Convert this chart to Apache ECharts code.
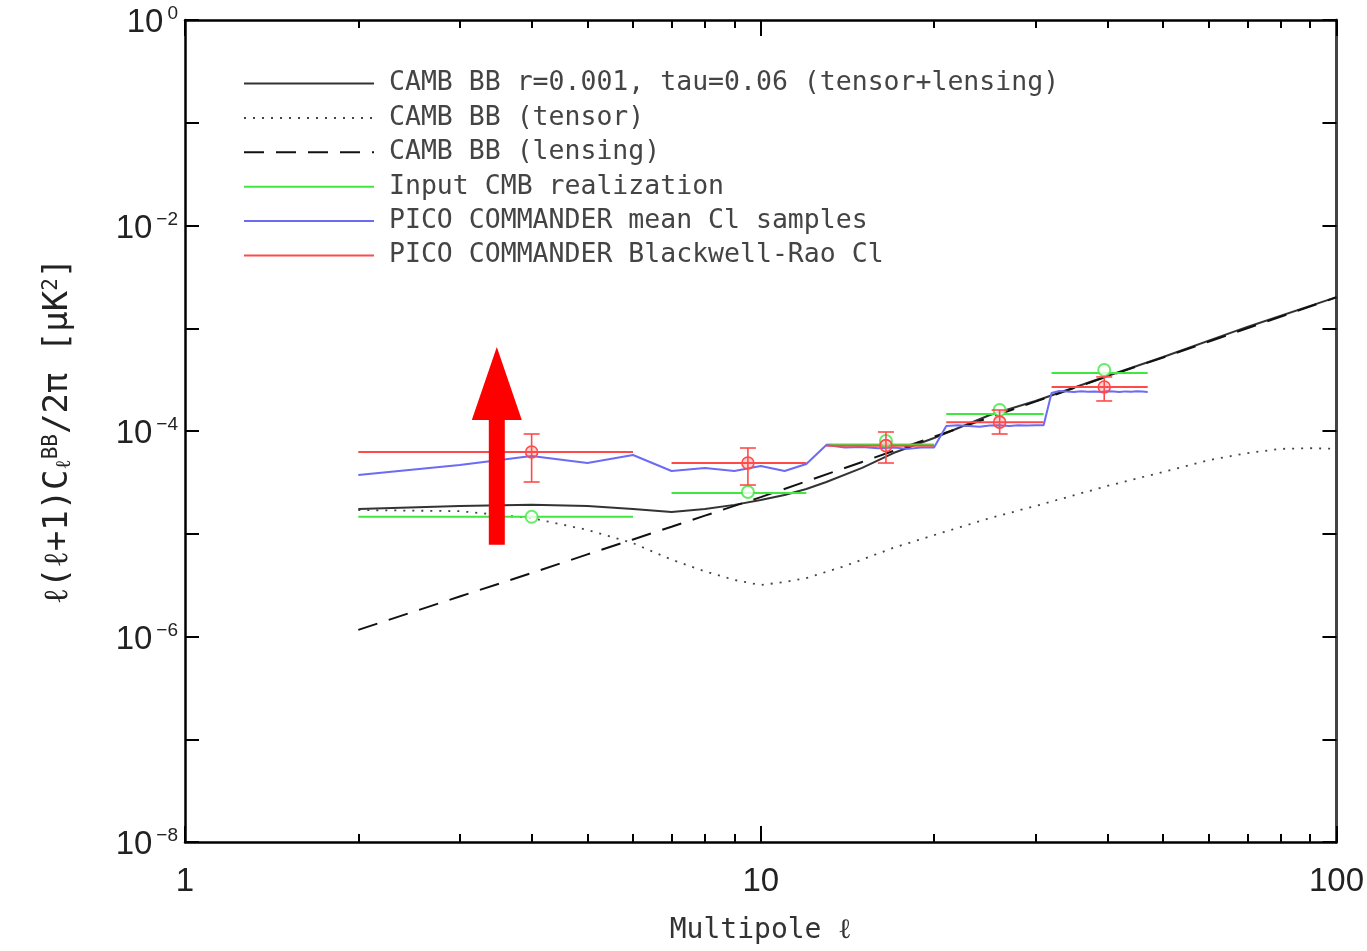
<!DOCTYPE html>
<html><head><meta charset="utf-8">
<script src="https://cdn.jsdelivr.net/npm/echarts@6/dist/echarts.min.js"></script>
<style>html,body{margin:0;padding:0;background:#fff}#c{width:1367px;height:951px}</style>
</head><body><div id="c"></div>
<script>
// ---- data ----
const totalL = [2,3,4,5,6,7,8,9,10,11,12,13,15,17,20,25,30,40,50,70,100];
const totalV = [1.74e-5,1.86e-5,1.91e-5,1.86e-5,1.74e-5,1.63e-5,1.74e-5,1.91e-5,2.13e-5,2.38e-5,2.73e-5,3.19e-5,4.37e-5,6.1e-5,8.55e-5,1.43e-4,1.96e-4,3.43e-4,5.25e-4,1.03e-3,2.01e-3];
const tensorL = [2,3,4,5,6,7,8,9,10,11,12,14,17,20,25,30,40,50,60,70,80,90,100];
const tensorV = [1.70e-5,1.66e-5,1.42e-5,1.09e-5,8.1e-6,5.6e-6,4.3e-6,3.55e-6,3.17e-6,3.39e-6,3.7e-6,4.85e-6,7.3e-6,9.7e-6,1.42e-5,1.86e-5,2.92e-5,3.99e-5,5.2e-5,6.1e-5,6.7e-5,6.8e-5,6.7e-5];
const lensL = [2,3,4,5,6,7,8,10,15,20,30,40,50,70,100];
const lensV = [1.16e-6,2.45e-6,4.15e-6,6.3e-6,8.8e-6,1.17e-5,1.5e-5,2.27e-5,5.0e-5,8.8e-5,1.93e-4,3.4e-4,5.2e-4,1.0e-3,2.0e-3];
const meanL = [2,3,4,5,6,7,8,9,10,11,12,13,14,15,16,17,18,19,20,21,22,23,24,25,26,27,28,29,30,31,32,33,34,35,36,37,38,39,40,41,42,43,44,45,46,47];
const meanV = [3.73e-5,4.67e-5,5.71e-5,4.88e-5,5.84e-5,4.08e-5,4.37e-5,4.08e-5,4.56e-5,4.08e-5,4.78e-5,7.3e-5,6.9e-5,7.0e-5,6.8e-5,6.9e-5,6.7e-5,6.9e-5,6.9e-5,1.12e-4,1.14e-4,1.12e-4,1.10e-4,1.13e-4,1.14e-4,1.12e-4,1.14e-4,1.13e-4,1.14e-4,1.14e-4,2.34e-4,2.45e-4,2.42e-4,2.40e-4,2.44e-4,2.41e-4,2.43e-4,2.40e-4,2.44e-4,2.42e-4,2.40e-4,2.43e-4,2.41e-4,2.44e-4,2.42e-4,2.40e-4];
const binLo = [2, 7, 13, 21, 32];
const binHi = [6, 12, 20, 31, 47];
const binCenter = [4, 9.5, 16.5, 26, 39.5];
const inputBin = [1.46e-5, 2.49e-5, 7.4e-5, 1.46e-4, 3.67e-4];
const inputPoint = [1.46e-5, 2.55e-5, 8.0e-5, 1.60e-4, 3.93e-4];
const brBin = [6.25e-5, 4.88e-5, 7.2e-5, 1.22e-4, 2.68e-4];
const brLow = [3.19e-5, 2.98e-5, 4.88e-5, 9.35e-5, 1.96e-4];
const brHigh = [9.35e-5, 6.83e-5, 9.78e-5, 1.60e-4, 3.36e-4];
const arrowL = 3.48, arrowFrom = 7.8e-6, arrowTo = 6.56e-4;
const xMinorTicks = [2,3,4,5,6,7,8,9,20,30,40,50,60,70,80,90];
const names = [
  'CAMB BB r=0.001, tau=0.06 (tensor+lensing)',
  'CAMB BB (tensor)',
  'CAMB BB (lensing)',
  'Input CMB realization',
  'PICO COMMANDER mean Cl samples',
  'PICO COMMANDER Blackwell-Rao Cl'
];

// ---- styles ----
const GREEN = '#3fe83f', BLUE = '#6b6bf5', RED = '#ff4a4a';
const MONO = 'DejaVu Sans Mono';
const SANS = 'Liberation Sans';

const zip = (a, b) => a.map((v, i) => [v, b[i]]);
function bins(lo, hi, v) {
  const out = [];
  lo.forEach((l, i) => { out.push([l, v[i]], [hi[i], v[i]], [hi[i], '-']); });
  return out;
}
function supExp(v) {
  const e = Math.round(Math.log10(v));
  if (e % 2 !== 0) return '';
  const s = e < 0 ? '\u2212' + (-e) : String(e);
  return '{a|10}{b|' + s + '}';
}

const axisLineStyle = {color: '#000', width: 2.5};
const tickStyle = {color: '#000', width: 2};
const xBase = {type: 'log', min: 1, max: 100, splitLine: {show: false}, minorTick: {show: false}};
const yBase = {type: 'log', min: 1e-8, max: 1, splitLine: {show: false}, minorTick: {show: false}};

const chart = echarts.init(document.getElementById('c'));
chart.setOption({
  animation: false,
  backgroundColor: '#fff',
  grid: {left: 185, right: 27, top: 20, bottom: 109, containLabel: false},
  legend: {
    data: names, orient: 'vertical', left: 238, top: 65,
    itemWidth: 130, itemHeight: 14, itemGap: 7.4,
    itemStyle: {opacity: 0, borderWidth: 0},
    textStyle: {fontFamily: MONO, fontSize: 26.5, lineHeight: 26, color: '#444', padding: [0, 0, 0, 10]},
    selectedMode: false
  },
  xAxis: [
    Object.assign({}, xBase, {
      position: 'bottom',
      axisLine: {show: true, lineStyle: axisLineStyle},
      axisTick: {show: true, inside: true, length: 16, lineStyle: tickStyle},
      axisLabel: {show: true, margin: 23, fontFamily: SANS, fontSize: 33, color: '#222'},
      name: 'Multipole \u2113', nameLocation: 'middle', nameGap: 75,
      nameTextStyle: {fontFamily: MONO, fontSize: 28, color: '#333'}
    }),
    Object.assign({}, xBase, {
      position: 'bottom',
      axisLine: {show: false},
      axisTick: {show: true, inside: true, length: 8, lineStyle: tickStyle, customValues: xMinorTicks},
      axisLabel: {show: false}
    }),
    Object.assign({}, xBase, {
      position: 'top',
      axisLine: {show: true, lineStyle: axisLineStyle},
      axisTick: {show: true, inside: true, length: 16, lineStyle: tickStyle},
      axisLabel: {show: false}
    }),
    Object.assign({}, xBase, {
      position: 'top',
      axisLine: {show: false},
      axisTick: {show: true, inside: true, length: 8, lineStyle: tickStyle, customValues: xMinorTicks},
      axisLabel: {show: false}
    })
  ],
  yAxis: [
    Object.assign({}, yBase, {
      position: 'left',
      axisLine: {show: true, lineStyle: axisLineStyle},
      axisTick: {show: true, inside: true, length: 14, lineStyle: tickStyle},
      axisLabel: {
        show: true, margin: 7, formatter: supExp, showMinLabel: true, showMaxLabel: true,
        rich: {
          a: {fontFamily: SANS, fontSize: 33, color: '#222', padding: [6, 0, 0, 0]},
          b: {fontFamily: SANS, fontSize: 19, color: '#222', verticalAlign: 'top', padding: [4, 0, 0, 4]}
        }
      },
      name: '\u2113(\u2113+1)C{s|\u2113}{p|BB}/2\u03c0 [\u03bcK{p|2}]',
      nameLocation: 'middle', nameGap: 110, nameRotate: 90,
      nameTextStyle: {
        fontFamily: MONO, fontSize: 34, color: '#222',
        rich: {
          s: {fontFamily: MONO, fontSize: 21, color: '#222', verticalAlign: 'bottom'},
          p: {fontFamily: MONO, fontSize: 21, color: '#222', verticalAlign: 'top'}
        }
      }
    }),
    Object.assign({}, yBase, {
      position: 'right',
      axisLine: {show: true, lineStyle: {color: '#444', width: 3}},
      axisTick: {show: true, inside: true, length: 14, lineStyle: tickStyle},
      axisLabel: {show: false}
    })
  ],
  series: [
    {name: names[0], type: 'line', data: zip(totalL, totalV), symbol: 'none',
     lineStyle: {color: '#333', width: 2}, itemStyle: {color: '#333'}, z: 2},
    {name: names[1], type: 'line', data: zip(tensorL, tensorV), symbol: 'none', smooth: false,
     lineStyle: {color: '#444', width: 1.8, type: [2, 7]}, itemStyle: {color: '#444'}, z: 2},
    {name: names[2], type: 'line', data: zip(lensL, lensV), symbol: 'none',
     lineStyle: {color: '#111', width: 2, type: [20, 12]}, itemStyle: {color: '#111'}, z: 2},
    {name: names[3], type: 'line', data: bins(binLo, binHi, inputBin), symbol: 'none', connectNulls: false,
     lineStyle: {color: GREEN, width: 2}, itemStyle: {color: GREEN}, z: 3},
    {name: names[4], type: 'line', data: zip(meanL, meanV), symbol: 'none',
     lineStyle: {color: BLUE, width: 2}, itemStyle: {color: BLUE}, z: 3},
    {name: names[5], type: 'line', data: bins(binLo, binHi, brBin), symbol: 'none', connectNulls: false,
     lineStyle: {color: RED, width: 2}, itemStyle: {color: RED}, z: 4},
    {name: 'inputPoints', type: 'scatter', data: zip(binCenter, inputPoint), symbol: 'emptyCircle', symbolSize: 12,
     itemStyle: {color: GREEN, borderColor: GREEN, borderWidth: 1.6}, z: 4, silent: true},
    {name: 'brErr', type: 'custom', z: 5, silent: true,
     data: binCenter.map((c, i) => [c, brLow[i], brHigh[i], brBin[i]]),
     encode: {x: 0, y: [1, 2]},
     renderItem: function (params, api) {
       const x = api.value(0);
       const lo = api.coord([x, api.value(1)]);
       const hi = api.coord([x, api.value(2)]);
       const mid = api.coord([x, api.value(3)]);
       const cap = 8;
       const st = {stroke: RED, lineWidth: 1.6, fill: null};
       return {type: 'group', children: [
         {type: 'line', shape: {x1: lo[0], y1: lo[1], x2: hi[0], y2: hi[1]}, style: st},
         {type: 'line', shape: {x1: lo[0] - cap, y1: lo[1], x2: lo[0] + cap, y2: lo[1]}, style: st},
         {type: 'line', shape: {x1: hi[0] - cap, y1: hi[1], x2: hi[0] + cap, y2: hi[1]}, style: st},
         {type: 'circle', shape: {cx: mid[0], cy: mid[1], r: 6}, style: {stroke: RED, lineWidth: 1.6, fill: 'rgba(255,80,80,0.25)'}}
       ]};
     }},
    {name: 'arrow', type: 'custom', z: 10, silent: true,
     data: [[arrowL, arrowFrom, arrowTo]],
     encode: {x: 0, y: [1, 2]},
     renderItem: function (params, api) {
       const b = api.coord([api.value(0), api.value(1)]);
       const t = api.coord([api.value(0), api.value(2)]);
       const sw = 8, hw = 25, hl = 73;
       const pts = [[b[0] - sw, b[1]], [b[0] - sw, t[1] + hl], [b[0] - hw, t[1] + hl], [t[0], t[1]],
                    [b[0] + hw, t[1] + hl], [b[0] + sw, t[1] + hl], [b[0] + sw, b[1]]];
       return {type: 'polygon', shape: {points: pts}, style: {fill: '#ff0000'}};
     }}
  ]
});
</script>
</body></html>
